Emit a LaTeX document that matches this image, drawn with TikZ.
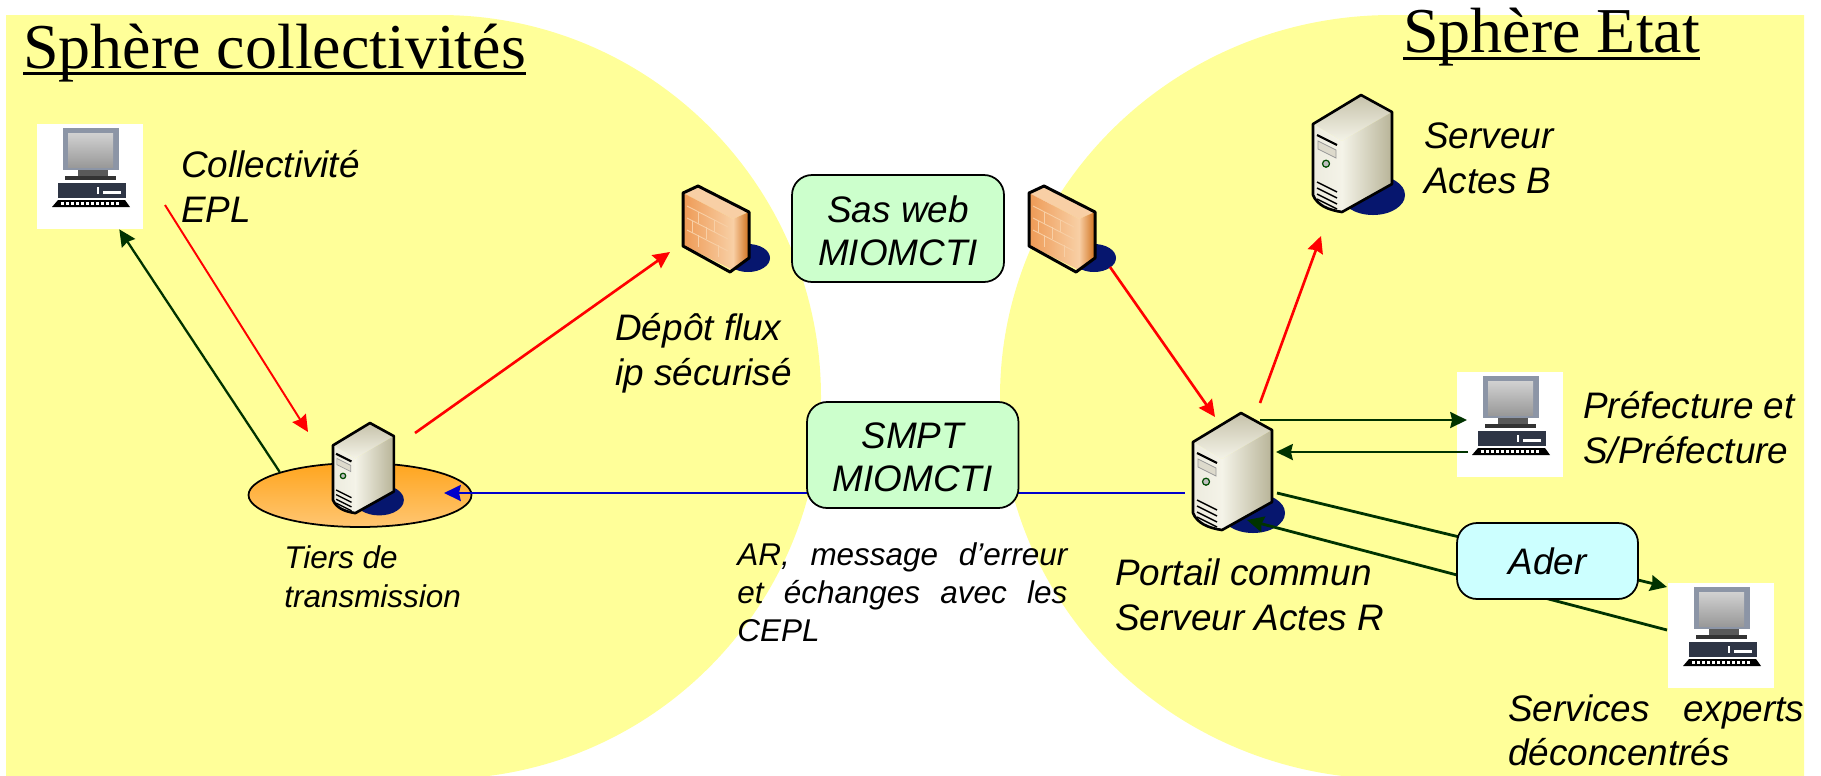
\documentclass[tikz,border=0pt]{standalone}
\usepackage{fontspec}
\usepackage{tikz}
\usepackage{xcolor}
\usetikzlibrary{arrows.meta, shapes.geometric}

\newfontfamily\arialfont{Liberation Sans}
\newfontfamily\timesfont{Liberation Serif}

\definecolor{sphere}{HTML}{FFFF99}
\definecolor{msggreen}{HTML}{CCFFCC}
\definecolor{msgcyan}{HTML}{CCFFFF}
\definecolor{darkgreen}{HTML}{003300}
\definecolor{navyshadow}{HTML}{06166E}
\definecolor{pcframe}{HTML}{8C95A6}
\definecolor{pccase}{HTML}{2E3545}
\definecolor{brick}{HTML}{EE9A55}
\definecolor{bricklight}{HTML}{F8CFA5}
\definecolor{brickdark}{HTML}{D0701C}
\definecolor{srvtop}{HTML}{C6C2AA}
\definecolor{srvlight}{HTML}{F4F3E8}
\definecolor{srvdark}{HTML}{B8B498}
\definecolor{ringtop}{HTML}{FFA51E}
\definecolor{ringlow}{HTML}{FFC672}

\tikzset{
  pics/computer/.style={code={
    % screen
    \fill[pcframe] (26,4) rectangle (82,46);
    \shade[top color=black!18, bottom color=black!40] (31,9) rectangle (76,43);
    % foot
    \fill[black!65] (41,46) rectangle (71,53);
    \fill[black!80] (28,52) rectangle (79,56);
    % case
    \fill[pccase] (21,59) rectangle (89,74);
    \fill[white] (60,63) rectangle (62,70);
    \fill[white] (66,67) rectangle (84,70);
    % keyboard
    \fill[black] (21,76) -- (88,76) -- (93,83) -- (15,83) -- cycle;
    \foreach \k in {0,...,11} \fill[white] (24+5*\k,78) rectangle (26.5+5*\k,80.5);
  }},
  pics/wall/.style={code={
    \fill[navyshadow] (78,88) ellipse [x radius=22, y radius=14];
    \fill[bricklight] (13,23) -- (28,16) -- (79,42) -- (63,49) -- cycle;
    \shade[left color=brick, right color=bricklight] (13,23) -- (63,49) -- (63,100) -- (13,75) -- cycle;
    \shade[left color=bricklight, right color=brickdark] (63,49) -- (79,42) -- (79,88) -- (63,100) -- cycle;
    % bricks
    \foreach \k in {0,12,24} \draw[bricklight, line width=0.5pt] (17,36+\k) -- (58,57+\k);
    \draw[bricklight, line width=0.5pt] (28,42) -- (28,54) (44,50) -- (44,62) (22,51) -- (22,63) (36,57) -- (36,69) (28,65) -- (28,77) (48,75) -- (48,87);
    \draw[black, line width=1.7pt, line join=round] (13,23) -- (28,16) -- (79,42) -- (79,88) -- (60,102) -- (13,76) -- cycle;
  }},
  pics/server/.style={code={
    \fill[navyshadow] (60,100) ellipse [x radius=32, y radius=20];
    \shade[top color=srvtop, bottom color=srvlight] (0,29) -- (48,0) -- (79,17) -- (29,46) -- cycle;
    \shade[left color=srvlight!85!srvtop, right color=srvlight] (0,29) -- (29,46) -- (29,117) .. controls (15,115) and (4,110) .. (0,100) -- cycle;
    \shade[left color=srvlight, right color=srvdark] (29,46) -- (79,17) -- (79,89) -- (29,117) -- cycle;
    % front panel
    \draw[black, line width=1.2pt] (4,40) -- (24,50);
    \draw[black!40, fill=srvtop!60!white, line width=0.4pt] (5,46) -- (23,55) -- (23,63) -- (5,54) -- cycle;
    \draw[black!70!green, fill=black!25, line width=0.7pt] (13,68.7) circle (3.5);
    \foreach \k in {87,93,99,104} \draw[black, line width=0.8pt] (4,\k) -- (24,\k+10);
    \draw[black, line width=1.5pt, line join=round] (0,29) -- (48,0) -- (79,17) -- (79,89) -- (29,117) .. controls (15,115) and (4,110) .. (0,100) -- cycle;
  }}
}

\begin{document}
\begin{tikzpicture}[x=0.02cm, y=-0.02cm, >={Stealth[length=9.5pt, width=9pt, inset=1pt]},
    pcbox/.style={draw=none, fill=white, inner sep=0, minimum width=2.12cm, minimum height=2.1cm},
    srvbox/.style={inner sep=0, minimum width=1.58cm, minimum height=2.34cm},
    wallbox/.style={inner sep=0, minimum width=1.32cm, minimum height=1.72cm},
    msgbox/.style={draw, line width=1pt, fill=msggreen, rounded corners=0.4cm, inner sep=0, align=center, font=\arialfont\itshape\fontsize{21}{24.5}\selectfont},
    lbl/.style={anchor=base west, inner sep=0, align=left, font=\arialfont\itshape\fontsize{21}{25.6}\selectfont},
    lblsmall/.style={anchor=base west, inner sep=0, align=left, font=\arialfont\itshape\fontsize{17.9}{21.8}\selectfont},
    titlelbl/.style={anchor=base west, inner sep=0, font=\timesfont\fontsize{36.4}{40}\selectfont},
    titlerule/.style={line width=1.7pt},
    redline/.style={->, red, line width=1.5pt},
    darkline/.style={->, darkgreen, line width=1.6pt}]
    \useasboundingbox (0,0) rectangle (1821,775);
    \clip (0,0) rectangle (1821,775);

    % Spheres
    \fill[sphere] (6,15) -- (440,15) arc [start angle=-90, end angle=90, x radius=381, y radius=382] -- (6,779) -- cycle;
    \fill[sphere] (1804,15) -- (1392,15) arc [start angle=-90, end angle=-270, x radius=392, y radius=382] -- (1804,779) -- cycle;

    % Tiers de transmission
    \node[ellipse, draw, line width=1pt, top color=ringtop, bottom color=ringlow, inner sep=0, minimum width=4.46cm, minimum height=1.28cm] (tiers) at (360,495) {};
    \node[srvbox, minimum width=1.21cm, minimum height=1.8cm] (tsrv) at (363,468) {};
    \pic[scale=0.77] at (333,423) {server};

    % Computers
    \node[pcbox] (epl) at (90,176.5) {};
    \pic at (37,124) {computer};
    \node[pcbox] (pref) at (1510,424) {};
    \pic at (1457,372) {computer};
    \node[pcbox] (expert) at (1721,635.5) {};
    \pic at (1668,583) {computer};

    % Walls
    \node[wallbox] (wallA) at (716,229) {};
    \pic at (670,170) {wall};
    \node[wallbox] (wallB) at (1062,229) {};
    \pic at (1016,170) {wall};

    % Servers
    \node[srvbox] (servB) at (1352.5,153.5) {};
    \pic at (1313,95) {server};
    \node[srvbox] (portal) at (1232,471) {};
    \pic at (1193,413) {server};

    % Red flows
    \draw[redline, line width=1.1pt] ([shift={(75,28.5)}]epl.center) -- ([shift={(-55,-36)}]tsrv.center);
    \draw[redline] ([shift={(52,-35)}]tsrv.center) -- ([shift={(-46,23)}]wallA.center);
    \draw[redline] ([shift={(48,38)}]wallB.center) -- ([shift={(-17,-54)}]portal.center);
    \draw[redline] ([shift={(28,-68)}]portal.center) -- ([shift={(-31.5,82.5)}]servB.center);

    % Return flows
    \draw[darkline, line width=1.3pt] (tiers.164) -- (epl.-61);
    \draw[darkline] ([shift={(28,-51)}]portal.center) -- ([shift={(-43,-4)}]pref.center);
    \draw[darkline] ([shift={(-42,28)}]pref.center) -- ([shift={(44,-19)}]portal.center);
    \draw[darkline] ([shift={(45,22)}]portal.center) -- ([shift={(-54,-48.5)}]expert.center);
    \draw[darkline] ([shift={(-54,-5.5)}]expert.center) -- ([shift={(15,49)}]portal.center);
    \draw[->, blue!80!black, line width=1.6pt] ([shift={(-47.5,22)}]portal.center) -- ([shift={(84,-2)}]tiers.center);

    % Message boxes
    \node[msgbox, minimum width=4.24cm, minimum height=2.14cm] (sas) at (898,228.5) {\rule{0pt}{17.6pt}Sas web\\MIOMCTI};
    \node[msgbox, minimum width=4.23cm, minimum height=2.12cm] (smpt) at (912.75,455) {\rule{0pt}{17.6pt}SMPT\\MIOMCTI};
    \node[msgbox, fill=msgcyan, minimum width=3.62cm, minimum height=1.52cm] (ader) at (1547.5,561) {Ader};

    % Titles
    \node[titlelbl] (collect) at (23,68) {Sphère collectivités};
    \draw[titlerule] ([yshift=-3pt]collect.base west) -- ([yshift=-3pt]collect.base east);
    \node[titlelbl] (etat) at (1403,52) {Sphère Etat};
    \draw[titlerule] ([yshift=-3.6pt]etat.base west) -- ([yshift=-3.6pt]etat.base east);

    % Labels
    \node[lbl] (leplt) at (181,222) {Collectivité\\EPL};
    \node[lbl] (ldepot) at (615,385) {Dépôt flux\\ip sécurisé};
    \node[lbl] (lservb) at (1424,193) {Serveur\\Actes B};
    \node[lbl] (lpref) at (1583,463) {Préfecture et\\S/Préfecture};
    \node[lbl] (lportal) at (1115,630) {Portail commun\\Serveur Actes R};
    \node[lbl, text width=5.92cm, align=justify] (lexpert) at (1508,721) {Services experts\linebreak déconcentrés};
    \node[lblsmall] (ltiers) at (284,607) {Tiers de\\transmission};
    \node[lblsmall, text width=6.6cm, align=justify] (lar) at (737,565) {AR, message d’erreur\linebreak et échanges avec les\linebreak CEPL};
\end{tikzpicture}
\end{document}
